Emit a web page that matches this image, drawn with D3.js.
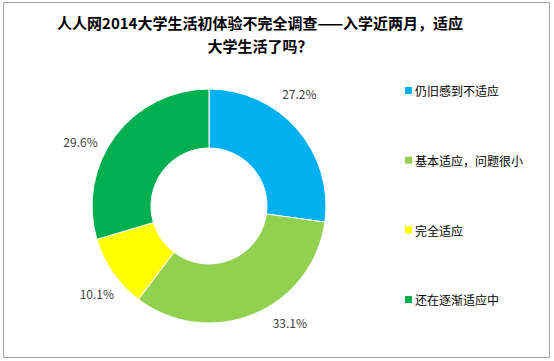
<!DOCTYPE html>
<html><head><meta charset="utf-8">
<script src="https://cdn.jsdelivr.net/npm/d3@7"></script>
<style>
html,body{margin:0;padding:0;background:#fff;}
svg{display:block;}
</style></head>
<body>
<svg id="chart" width="554" height="361"></svg>
<script>
const categories = ["仍旧感到不适应", "基本适应，问题很小", "完全适应", "还在逐渐适应中"];
const values = [27.2, 33.1, 10.1, 29.6];
const labels = ["27.2%", "33.1%", "10.1%", "29.6%"];
const colors = ["#00B0F0", "#92D050", "#FFFF00", "#00B050"];
const titleLines = ["人人网2014大学生活初体验不完全调查——入学近两月，适应", "大学生活了吗？"];

const svg = d3.select("#chart");
const W = 554, H = 361;
const font = "'Noto Sans CJK SC', 'Noto Sans', sans-serif";

svg.append("rect").attr("x", 3.5).attr("y", 2.5).attr("width", W - 8).attr("height", H - 6)
  .attr("fill", "#fff").attr("stroke", "#a6a6a6").attr("stroke-width", 1);

svg.selectAll("text.title").data(titleLines).enter().append("text")
  .attr("class", "title")
  .attr("x", 260).attr("y", (d, i) => 29 + i * 23)
  .attr("text-anchor", "middle")
  .attr("font-family", font).attr("font-weight", "bold").attr("font-size", 15)
  .attr("fill", "#000").text(d => d);

const cx = 209, cy = 206, R = 117, r = 58;
const g = svg.append("g").attr("transform", `translate(${cx},${cy})`);
const pie = d3.pie().sort(null).value(d => d)(values);
const arc = d3.arc().innerRadius(r).outerRadius(R);
g.selectAll("path").data(pie).enter().append("path")
  .attr("d", arc).attr("fill", (d, i) => colors[i])
  .attr("stroke", "#fff").attr("stroke-width", 1);

const labelArc = d3.arc().innerRadius(R + 26).outerRadius(R + 26);
g.selectAll("text.lbl").data(pie).enter().append("text")
  .attr("class", "lbl")
  .attr("transform", d => {
    // shift label angle slightly counter-clockwise, as the source chart's best-fit placement does
    const a = (d.startAngle + d.endAngle) / 2 - 0.1 * (d.endAngle - d.startAngle);
    const c = labelArc.centroid({startAngle: a, endAngle: a});
    return `translate(${c[0]},${c[1]})`;
  })
  .attr("text-anchor", "middle").attr("dy", "0.35em")
  .attr("font-family", font).attr("font-size", 12).attr("fill", "#404040")
  .text((d, i) => labels[i]);

const leg = svg.append("g");
const ly = d3.scaleLinear().domain([0, categories.length - 1]).range([92, 301]);
const items = leg.selectAll("g").data(categories).enter().append("g")
  .attr("transform", (d, i) => `translate(405,${ly(i)})`);
items.append("rect").attr("x", 0).attr("y", -5).attr("width", 7).attr("height", 7)
  .attr("fill", (d, i) => colors[i]);
items.append("text").attr("x", 10).attr("y", 0).attr("dy", "0.35em")
  .attr("font-family", font).attr("font-size", 12).attr("fill", "#000")
  .text(d => d);
</script>
</body></html>
